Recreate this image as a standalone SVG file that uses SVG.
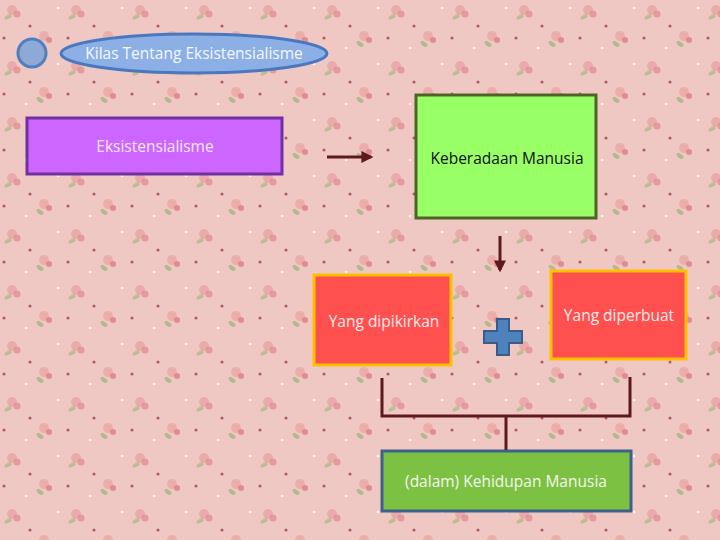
<svg xmlns="http://www.w3.org/2000/svg" width="720" height="540" viewBox="0 0 720 540">
<defs>
<pattern id="floral" x="0" y="0" width="64" height="56" patternUnits="userSpaceOnUse">
<rect width="64" height="56" fill="#f0c8c3"/>
<circle cx="12" cy="10" r="5" fill="#e9a3a3" opacity="0.8"/>
<circle cx="17" cy="14" r="3.5" fill="#e28f93" opacity="0.8"/>
<ellipse cx="8" cy="17" rx="4" ry="2" fill="#a9b97a" opacity="0.7" transform="rotate(-30 8 17)"/>
<circle cx="44" cy="36" r="5" fill="#eaa7a5" opacity="0.8"/>
<circle cx="49" cy="40" r="3" fill="#d97f86" opacity="0.8"/>
<ellipse cx="40" cy="44" rx="4" ry="2" fill="#9fb372" opacity="0.7" transform="rotate(35 40 44)"/>
<circle cx="30" cy="26" r="1.5" fill="#b5545f"/>
<circle cx="58" cy="8" r="1.3" fill="#fff" opacity="0.8"/>
<circle cx="26" cy="48" r="1.3" fill="#fff" opacity="0.8"/>
<circle cx="4" cy="38" r="1.5" fill="#b5545f"/>
</pattern>
<marker id="arr" viewBox="0 0 10 10" refX="8" refY="5" markerWidth="4" markerHeight="4" orient="auto">
<path d="M0,0 L10,5 L0,10 z" fill="#5c1a1f"/>
</marker>
<style>
.t{font-family:"Open Sans","Liberation Sans",sans-serif;font-size:15.5px;text-anchor:middle;dominant-baseline:central}
.ln{stroke:#5c1a1f;stroke-width:3;fill:none}
</style>
</defs>
<rect width="720" height="540" fill="url(#floral)"/>

<g id="title-dot">
<circle cx="32" cy="53" r="14" fill="#8fa9d6" stroke="#4f7fc0" stroke-width="3"/>
</g>
<g id="title">
<ellipse cx="194" cy="53.5" rx="133" ry="19.5" fill="#8cb0e6" stroke="#4a78c0" stroke-width="3"/>
<text class="t" x="194" y="53" fill="#f4f8ff" style="font-size:15.5px">Kilas Tentang Eksistensialisme</text>
</g>

<g id="eksistensialisme">
<rect x="27" y="118" width="255" height="56" fill="#cc66ff" stroke="#7030a0" stroke-width="3"/>
<text class="t" x="155" y="146" fill="#f3e6fa">Eksistensialisme</text>
</g>

<g id="keberadaan">
<rect x="416" y="95" width="180" height="123" fill="#99ff66" stroke="#4f6228" stroke-width="3"/>
<text class="t" x="507" y="158" fill="#111">Keberadaan Manusia</text>
</g>

<g id="dipikirkan">
<rect x="314" y="275" width="137" height="90" fill="#ff5050" stroke="#ffc000" stroke-width="3"/>
<text class="t" x="384" y="321" fill="#fbeaea">Yang dipikirkan</text>
</g>

<g id="plus">
<path d="M497,319 H509 V331 H522 V343 H509 V355 H497 V343 H484 V331 H497 Z" fill="#4f81bd" stroke="#385d8a" stroke-width="2"/>
</g>

<g id="diperbuat">
<rect x="551" y="271" width="135" height="88" fill="#ff5050" stroke="#ffc000" stroke-width="3"/>
<text class="t" x="619" y="315" fill="#fbeaea">Yang diperbuat</text>
</g>

<g id="kehidupan">
<rect x="382" y="451" width="249" height="60" fill="#7dc142" stroke="#3f5f8f" stroke-width="3"/>
<text class="t" x="506" y="481" fill="#f2f6ee">(dalam) Kehidupan Manusia</text>
</g>

<g id="connectors">
<line class="ln" x1="327" y1="157" x2="371" y2="157" marker-end="url(#arr)"/>
<line class="ln" x1="500" y1="236" x2="500" y2="270" marker-end="url(#arr)"/>
<path class="ln" d="M382,378 V416 H630 V377"/>
<line class="ln" x1="506" y1="416" x2="506" y2="450"/>
</g>
</svg>
